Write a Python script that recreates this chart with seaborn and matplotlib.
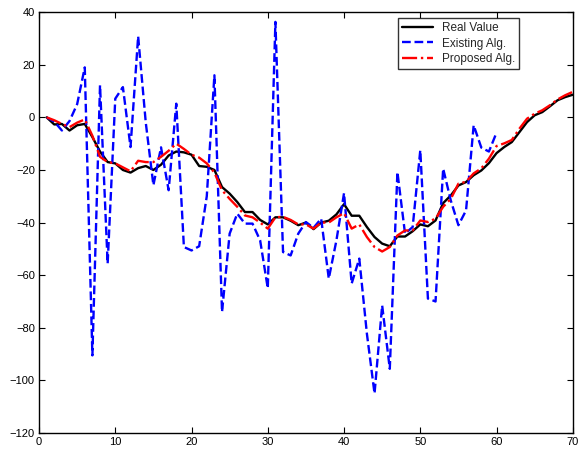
import matplotlib
matplotlib.use("Agg")
import matplotlib.pyplot as plt
import seaborn as sns
import pandas as pd

# values
steps = list(range(1, 71))
real_value = [
    0, -2.7, -2.5, -5, -3, -2.5, -7.5, -13, -17, -17.5,
    -20, -21, -19.3, -18.5, -20, -18, -14.5, -13, -13.3, -14.2,
    -18.5, -18.8, -20, -26.5, -29, -32.2, -36, -36, -39, -40.7,
    -38, -38, -39.3, -41, -40, -42.5, -40, -39.3, -36.9, -33,
    -37.4, -37.4, -41.7, -45.5, -48, -49, -45.3, -45.3, -43.3, -40.7,
    -41.4, -39.2, -32.6, -29.7, -25.9, -24.6, -22, -20.2, -17.4, -13.6,
    -11.3, -9.4, -5.6, -1.8, 0.8, 2, 4.2, 6.5, 7.7, 8.6,
]
proposed = [
    0, -1.1, -2.5, -3.7, -2, -0.8, -7, -15, -17, -17.5,
    -19, -20.5, -16.5, -17, -17, -15, -12.7, -10, -12, -14.2,
    -15.3, -17.5, -21, -27.7, -31, -34, -37.3, -38, -40, -42.3,
    -38, -37.8, -39, -40.7, -40.7, -42.3, -40, -40, -38, -36.4,
    -42.3, -40.7, -45.5, -49.3, -51, -49.3, -44.9, -43, -43, -39.2,
    -39.8, -38.5, -34, -31, -25.2, -24.5, -21.3, -19.4, -15.7, -10.9,
    -9.9, -8.6, -4.3, -0.5, 1.4, 2.7, 4.6, 6.8, 8.4, 9.7,
]
existing_steps = list(range(1, 61))
existing = [
    0, -1.6, -5, -1.4, 5, 19, -90.5, 12.2, -55.6, 7.1,
    11.5, -11.3, 30.8, -2, -25.8, -11.4, -27.7, 5.2, -49.3, -50.6,
    -49, -30, 16, -74, -44.2, -36.6, -40.4, -40.4, -46.8, -65,
    36.3, -51.2, -52.5, -44.2, -39.8, -42, -38.5, -61.3, -46.8, -28.8,
    -63.2, -53.7, -82.3, -105, -71.5, -95.6, -20.8, -44.2, -41.7, -12.5,
    -68.9, -70, -19.5, -31.6, -41, -35.4, -3, -11.5, -13, -5.8,
]

sns.set_style("ticks")
plt.rcParams["font.family"] = ["Liberation Sans", "DejaVu Sans"]

fig = plt.figure(figsize=(5.78, 4.5), dpi=100)
fig.patch.set_facecolor("white")
ax = fig.add_axes([0.0675, 0.0378, 0.9235, 0.9352])

real_df = pd.DataFrame({"step": steps, "value": real_value})
prop_df = pd.DataFrame({"step": steps, "value": proposed})
exist_df = pd.DataFrame({"step": existing_steps, "value": existing})

sns.lineplot(data=real_df, x="step", y="value", ax=ax, color="black",
             linewidth=1.7, label="Real Value")
sns.lineplot(data=exist_df, x="step", y="value", ax=ax, color="#0000ff",
             linewidth=1.7, linestyle="--", label="Existing Alg.")
sns.lineplot(data=prop_df, x="step", y="value", ax=ax, color="#ff0000",
             linewidth=1.7, linestyle="-.", label="Proposed Alg.")

ax.set_xlim(0, 70)
ax.set_ylim(-120, 40)
ax.set_xticks(range(0, 71, 10))
ax.set_yticks(range(-120, 41, 20))
ax.set_xlabel("")
ax.set_ylabel("")
ax.tick_params(direction="in", labelsize=8, length=4, width=0.8,
               top=True, right=True, colors="black", pad=3)
for side in ax.spines.values():
    side.set_visible(True)
    side.set_linewidth(1.0)
    side.set_color("black")

leg = ax.legend(loc="upper right", bbox_to_anchor=(0.899, 0.985), fontsize=8.5,
                frameon=True, fancybox=False, borderpad=0.3, labelspacing=0.3,
                handlelength=2.6, borderaxespad=0.0)
leg.get_frame().set_edgecolor("black")
leg.get_frame().set_linewidth(1.0)

plt.savefig("out.png", dpi=100, facecolor="white")
